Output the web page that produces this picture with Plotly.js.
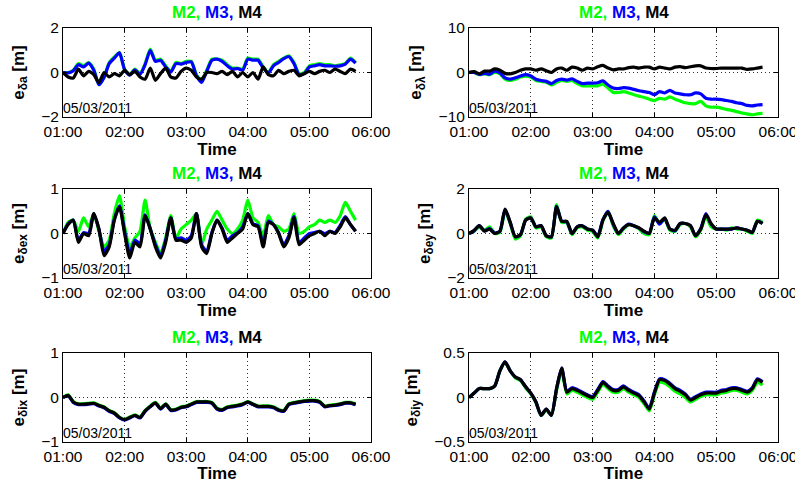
<!DOCTYPE html>
<html><head><meta charset="utf-8">
<script src="https://cdn.plot.ly/plotly-3.0.1.min.js"></script>
<style>html,body{margin:0;padding:0;background:#fff;}#chart{width:795px;height:483px;}</style>
</head><body><div id="chart"></div>
<script>
// time in minutes after 01:00 (05/03/2011)
const timeMin = [0,5,10,15,20,25,30,35,40,45,50,55,60,65,70,75,80,85,90,95,100,105,110,115,120,125,130,135,140,145,150,155,160,165,170,175,180,185,190,195,200,205,210,215,220,225,230,235,240,245,250,255,260,265,270,275,280,285];
const tickMin = [0,60,120,180,240,300];
const tickLabels = ['01:00','02:00','03:00','04:00','05:00','06:00'];
const seriesNames = ['M2','M3','M4'];
const seriesColors = ['#00ff00','#0000ff','#000000'];
const dateLabel = '05/03/2011';

// e_δa
const daM2 = [0,0.0,0.1,0.4,0.3,0.45,0.15,-0.55,-0.2,0.45,0.7,0.9,0.15,-0.1,0.15,-0.05,0.4,1.05,0.55,0.6,0.3,0.05,0.45,0.4,0.5,0.5,-0.1,-0.35,0.1,0.6,0.6,0.55,0.35,0.2,0.2,0.15,0.65,0.6,0.6,0.25,0.0,0.35,0.5,0.65,0.75,0.45,-0.05,0.0,0.3,0.35,0.4,0.35,0.35,0.3,0.35,0.4,0.65,0.45];
const daM3 = [0,-0.02,0.08,0.35,0.25,0.42,0.1,-0.55,-0.22,0.4,0.65,0.88,0.12,-0.12,0.12,-0.08,0.35,1.0,0.5,0.55,0.25,0.02,0.4,0.38,0.45,0.48,-0.15,-0.45,0.05,0.55,0.6,0.5,0.3,0.15,0.18,0.1,0.6,0.55,0.55,0.2,-0.02,0.3,0.45,0.62,0.72,0.4,-0.1,-0.05,0.25,0.3,0.35,0.3,0.3,0.28,0.3,0.38,0.6,0.42];
const daM4 = [0,-0.2,-0.25,0.15,-0.15,0.05,-0.1,-0.45,0.0,-0.2,-0.05,-0.15,0.1,-0.1,0.05,-0.2,-0.3,0.2,-0.35,-0.05,0.2,-0.2,-0.25,0.05,0.2,0.1,-0.2,-0.3,0.0,0.0,-0.05,0.05,-0.1,0.05,-0.2,0.0,-0.2,0.0,-0.3,0.25,-0.1,-0.15,0.1,-0.05,0.05,0.1,-0.15,-0.05,0.05,-0.05,0.05,0.1,0.0,0.15,0.05,-0.05,0.15,0.05];
// e_δλ
const dlM2 = [0,0,-0.5,-0.3,-0.5,0.0,-0.3,-1.5,-1.8,-1.5,-1.0,-0.8,-1.0,-1.8,-2.0,-2.2,-2.8,-2.2,-1.8,-2.0,-1.8,-2.5,-3.0,-3.0,-3.0,-3.0,-2.6,-3.5,-4.5,-4.5,-4.3,-4.6,-5.0,-5.3,-5.6,-6.0,-6.3,-5.8,-6.0,-5.5,-6.0,-6.4,-6.8,-7.0,-7.0,-6.5,-7.5,-7.8,-7.8,-8.0,-8.3,-8.5,-8.8,-9.1,-9.3,-9.5,-9.3,-9.2];
const dlM3 = [0,0,-0.4,-0.2,-0.4,0.3,-0.1,-1.2,-1.5,-1.2,-0.8,-0.5,-0.8,-1.5,-1.8,-2.0,-2.5,-1.8,-1.5,-1.7,-1.4,-2.0,-2.5,-2.4,-2.4,-2.3,-1.9,-2.8,-3.5,-3.6,-3.4,-3.5,-3.8,-4.1,-4.3,-4.5,-5.0,-4.3,-4.6,-4.0,-4.6,-4.8,-5.0,-5.0,-4.6,-4.8,-5.8,-6.0,-6.0,-6.1,-6.3,-6.5,-6.8,-7.0,-7.4,-7.5,-7.3,-7.2];
const dlM4 = [0,0.2,-0.3,0.3,0.3,0.8,0.5,-0.2,-0.3,0.0,0.5,0.8,0.8,0.5,0.8,0.4,0.0,0.8,1.0,0.5,1.2,1.0,0.5,1.0,0.8,1.3,1.6,1.0,0.6,0.8,0.8,1.1,1.2,1.0,1.2,1.2,0.8,1.2,1.0,0.8,1.2,1.3,1.1,1.3,1.5,1.5,1.0,0.9,0.9,1.0,1.0,1.0,1.0,1.0,0.7,0.8,1.0,1.2];
// e_δex
const dexM2 = [0.0,0.25,0.3,0.05,0.35,0.15,0.45,0.05,-0.3,-0.15,0.45,0.85,0.15,-0.3,-0.1,0.05,0.75,0.1,-0.2,-0.45,-0.1,0.4,-0.1,0.1,0.2,0.3,0.45,-0.25,0.1,0.3,0.5,0.3,0.1,0.0,0.1,0.3,0.75,0.35,0.25,-0.05,0.4,0.2,0.15,0.05,0.1,0.45,0.0,0.05,0.15,0.2,0.3,0.25,0.3,0.25,0.4,0.7,0.5,0.3];
const dexM3 = [0.0,0.22,0.3,-0.15,0.02,0.0,0.45,0.1,-0.4,-0.25,0.32,0.62,0.05,-0.45,-0.15,-0.22,0.42,0.1,-0.25,-0.5,-0.15,0.35,-0.12,-0.1,-0.15,-0.05,0.45,-0.25,-0.4,0.02,0.3,0.12,-0.15,-0.05,0.02,0.15,0.45,0.22,0.18,-0.25,0.28,0.2,0.02,-0.25,-0.05,0.38,-0.2,-0.1,0.0,0.02,0.05,0.0,0.05,0.02,0.18,0.38,0.2,0.05];
const dexM4 = [0.0,0.2,0.3,-0.2,0.0,-0.05,0.45,0.1,-0.5,-0.3,0.3,0.6,0.0,-0.55,-0.2,-0.3,0.4,0.1,-0.3,-0.55,-0.2,0.35,-0.15,-0.15,-0.2,-0.1,0.45,-0.3,-0.45,0.0,0.3,0.1,-0.2,-0.1,0.0,0.1,0.45,0.2,0.15,-0.3,0.25,0.2,0.0,-0.3,-0.1,0.35,-0.25,-0.15,-0.05,0.0,0.05,-0.05,0.05,0.0,0.15,0.35,0.2,0.05];
// e_δey
const deyM2 = [0,0.1,0.3,0.15,0.3,0.0,0.05,1.0,0.45,-0.25,-0.1,0.65,0.75,0.25,0.3,-0.15,-0.2,1.3,0.5,0.5,-0.05,0.25,0.3,0.15,0.1,-0.2,0.55,1.0,0.35,-0.05,0.2,0.4,0.35,0.2,0.0,-0.05,0.8,0.45,0.65,0.15,0.1,0.4,0.45,0.3,-0.15,0.15,0.75,0.3,0.2,0.2,0.15,0.25,0.2,0.2,0.1,0.0,0.6,0.5];
const deyM3 = [0,0.12,0.35,0.12,0.22,0.02,0.1,1.08,0.5,-0.15,-0.05,0.6,0.7,0.3,0.35,-0.1,-0.15,1.22,0.55,0.52,0.0,0.3,0.35,0.2,0.15,-0.12,0.62,1.0,0.42,0.0,0.25,0.42,0.35,0.25,0.08,0.02,0.75,0.42,0.68,0.2,0.12,0.45,0.45,0.35,-0.1,0.22,0.9,0.42,0.2,0.2,0.2,0.2,0.25,0.2,0.15,0.05,0.55,0.45];
const deyM4 = [0,0.15,0.35,0.1,0.2,0.0,0.1,1.1,0.5,-0.15,-0.05,0.6,0.7,0.3,0.35,-0.1,-0.15,1.2,0.55,0.55,0.0,0.3,0.35,0.2,0.15,-0.15,0.6,0.95,0.45,0.0,0.25,0.4,0.35,0.25,0.1,0.0,0.7,0.5,0.7,0.2,0.15,0.45,0.45,0.35,-0.1,0.2,0.85,0.45,0.2,0.2,0.2,0.2,0.25,0.2,0.15,0.05,0.55,0.45];
// e_δix
const dixM2 = [0.0,0.06,-0.09,-0.14,-0.14,-0.13,-0.12,-0.17,-0.21,-0.29,-0.34,-0.44,-0.49,-0.44,-0.39,-0.44,-0.29,-0.19,-0.11,-0.24,-0.14,-0.27,-0.26,-0.21,-0.19,-0.14,-0.09,-0.09,-0.09,-0.11,-0.24,-0.27,-0.21,-0.19,-0.17,-0.14,-0.09,-0.14,-0.19,-0.19,-0.19,-0.21,-0.27,-0.29,-0.14,-0.11,-0.09,-0.07,-0.06,-0.06,-0.09,-0.19,-0.17,-0.16,-0.14,-0.11,-0.11,-0.14];
const dixM3 = [0.0,0.04,-0.11,-0.16,-0.16,-0.15,-0.14,-0.19,-0.23,-0.31,-0.36,-0.46,-0.51,-0.46,-0.41,-0.46,-0.31,-0.21,-0.13,-0.26,-0.16,-0.29,-0.28,-0.23,-0.21,-0.16,-0.11,-0.11,-0.11,-0.13,-0.26,-0.29,-0.23,-0.21,-0.19,-0.16,-0.11,-0.16,-0.21,-0.21,-0.21,-0.23,-0.29,-0.31,-0.16,-0.13,-0.11,-0.09,-0.08,-0.08,-0.11,-0.21,-0.19,-0.18,-0.16,-0.13,-0.13,-0.16];
const dixM4 = [0.0,0.05,-0.1,-0.15,-0.15,-0.14,-0.13,-0.18,-0.22,-0.3,-0.35,-0.45,-0.5,-0.45,-0.4,-0.45,-0.3,-0.2,-0.12,-0.25,-0.15,-0.28,-0.27,-0.22,-0.2,-0.15,-0.1,-0.1,-0.1,-0.12,-0.25,-0.28,-0.22,-0.2,-0.18,-0.15,-0.1,-0.15,-0.2,-0.2,-0.2,-0.22,-0.28,-0.3,-0.15,-0.12,-0.1,-0.08,-0.07,-0.07,-0.1,-0.2,-0.18,-0.17,-0.15,-0.12,-0.12,-0.15];
// e_δiy
const diyM2 = [0,0.05,0.1,0.1,0.1,0.13,0.3,0.39,0.3,0.22,0.19,0.11,0.04,-0.06,-0.2,-0.14,-0.2,0.08,0.3,0.04,0.08,0.06,0.03,0.0,-0.02,0.06,0.15,0.1,0.06,0.06,0.1,0.06,0.03,0.0,-0.07,-0.15,0.03,0.17,0.16,0.12,0.07,0.04,0.0,-0.05,-0.02,0.01,0.03,0.03,0.03,0.05,0.06,0.08,0.08,0.06,0.04,0.08,0.17,0.14];
const diyM3 = [0,0.05,0.1,0.1,0.1,0.13,0.3,0.4,0.3,0.23,0.2,0.12,0.05,-0.05,-0.2,-0.13,-0.2,0.1,0.33,0.07,0.11,0.09,0.06,0.03,0.01,0.09,0.18,0.13,0.09,0.09,0.13,0.09,0.06,0.03,-0.04,-0.12,0.06,0.21,0.2,0.16,0.11,0.08,0.04,-0.02,0.01,0.04,0.06,0.06,0.06,0.08,0.09,0.11,0.11,0.09,0.07,0.11,0.21,0.18];
const diyM4 = [0,0.05,0.1,0.1,0.1,0.13,0.3,0.4,0.3,0.23,0.2,0.12,0.05,-0.05,-0.2,-0.13,-0.2,0.1,0.33,0.06,0.1,0.08,0.05,0.02,0.0,0.08,0.17,0.12,0.08,0.08,0.12,0.08,0.05,0.02,-0.05,-0.13,0.05,0.2,0.19,0.15,0.1,0.07,0.03,-0.03,0.0,0.03,0.05,0.05,0.05,0.07,0.08,0.1,0.1,0.08,0.06,0.1,0.2,0.17];

const daTicks = [-2,0,2], dlTicks = [-10,0,10], dexTicks = [-1,0,1], deyTicks = [-2,0,2], dixTicks = [-1,0,1], diyTicks = [-0.5,0,0.5];
const yLabels = ['e<sub>δa</sub> [m]','e<sub>δλ</sub> [m]','e<sub>δex</sub> [m]','e<sub>δey</sub> [m]','e<sub>δix</sub> [m]','e<sub>δiy</sub> [m]'];

const panels = [
  {s:[daM2,daM3,daM4], t:daTicks},
  {s:[dlM2,dlM3,dlM4], t:dlTicks},
  {s:[dexM2,dexM3,dexM4], t:dexTicks},
  {s:[deyM2,deyM3,deyM4], t:deyTicks},
  {s:[dixM2,dixM3,dixM4], t:dixTicks},
  {s:[diyM2,diyM3,diyM4], t:diyTicks}
];

const W = 795, H = 483;
const cols = [[63,371],[469,778]];
const rows = [[28,117],[189,278],[353,442]];
const FONT = 'Liberation Sans, Arial, Helvetica, sans-serif';

const data = [];
const layout = {
  width: W, height: H, margin:{l:0,r:0,t:0,b:0},
  paper_bgcolor:'#fff', plot_bgcolor:'#fff', showlegend:false,
  font:{family:FONT, color:'#000', size:15.5},
  annotations: []
};

panels.forEach((p, i) => {
  const c = cols[i % 2], r = rows[Math.floor(i / 2)];
  const n = i + 1;
  const xa = 'xaxis' + (n === 1 ? '' : n), ya = 'yaxis' + (n === 1 ? '' : n);
  const xr = 'x' + (n === 1 ? '' : n), yr = 'y' + (n === 1 ? '' : n);
  p.s.forEach((vals, k) => {
    data.push({type:'scatter', mode:'lines', x: timeMin, y: vals, xaxis: xr, yaxis: yr,
      name: seriesNames[k], line:{color: seriesColors[k], width: 3.2, shape:'spline', smoothing:0.6},
      hoverinfo:'skip'});
  });
  const common = {showline:true, linecolor:'#000', linewidth:1, mirror:'ticks', ticks:'inside', ticklen:4,
    tickcolor:'#000', showgrid:true, gridcolor:'#333', griddash:'1px,3px', gridwidth:1,
    zeroline:false, automargin:false, ticklabeloverflow:'allow',
    tickfont:{family:FONT, size:15.5, color:'#000'}};
  layout[xa] = Object.assign({}, common, {
    domain:[c[0]/W, c[1]/W], anchor: yr, range:[0,300], tickmode:'array', tickvals: tickMin, ticktext: tickLabels,
    title:{text:'<b>Time</b>', font:{family:FONT, size:17, color:'#000'}, standoff:2}
  });
  layout[ya] = Object.assign({}, common, {
    domain:[1 - r[1]/H, 1 - r[0]/H], anchor: xr, range:[p.t[0], p.t[2]], tickmode:'array', tickvals: p.t,
    title:{text:'<b>' + yLabels[i] + '</b>', font:{family:FONT, size:17, color:'#000'}, standoff:12}
  });
  // panel title
  layout.annotations.push({xref:'paper', yref:'paper', x:(c[0]+c[1])/2/W, y:1 - (r[0]-16)/H,
    xanchor:'center', yanchor:'middle', showarrow:false,
    text: seriesNames.map((nm,k)=>'<span style="color:'+seriesColors[k]+'">'+nm+(k<2?',':'')+'</span>').join(' '),
    font:{family:FONT, size:17, color:'#000', weight:'bold'}});
  // date label
  layout.annotations.push({xref: xr + ' domain', yref: yr + ' domain', x:0, y:0, xanchor:'left', yanchor:'bottom',
    showarrow:false, text: dateLabel, font:{family:FONT, size:14, color:'#000'}, borderpad:0, xshift:-1, yshift:0});
});

Plotly.newPlot('chart', data, layout, {displayModeBar:false, staticPlot:true});
</script></body></html>
